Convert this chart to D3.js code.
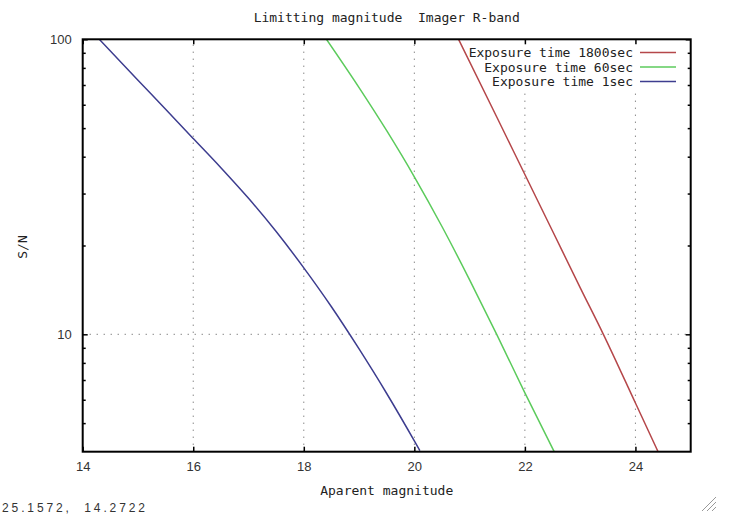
<!DOCTYPE html>
<html>
<head>
<meta charset="utf-8">
<script src="https://cdn.jsdelivr.net/npm/d3@7"></script>
<style>
  body { margin: 0; background: #fff; }
  svg { display: block; }
  text { white-space: pre; }
</style>
</head>
<body>
<svg id="chart" width="730" height="518"></svg>
<script>
// values (magnitude vs S/N)
var xTicks = [14, 16, 18, 20, 22, 24];
var yTicks = [10, 100];
var yMinor = [5, 6, 7, 8, 9, 20, 30, 40, 50, 60, 70, 80, 90];
var seriesNames = ["Exposure time 1800sec", "Exposure time 60sec", "Exposure time 1sec"];
var seriesColors = ["#b5474a", "#5ccb5c", "#3d3d8f"];

var mag1800 = [20.80, 21.5, 22.0, 22.5, 23.0, 23.42, 24.0, 24.41];
var sn1800  = [100, 54.1, 34.8, 22.4, 14.4, 10, 5.85, 4.0];
var mag60   = [18.41, 19.0, 19.5, 20.0, 20.5, 21.0, 21.49, 22.0, 22.53];
var sn60    = [100, 68.6, 49, 34.2, 23.2, 15.3, 10, 6.33, 4.0];
var mag1    = [14.30, 15.0, 15.5, 16.0, 16.5, 17.0, 17.5, 18.0, 18.5, 19.0, 19.5, 20.0, 20.1];
var sn1     = [100, 72.7, 57.9, 46.1, 36.7, 28.9, 22.3, 16.8, 12.4, 8.92, 6.30, 4.35, 4.03];

var titleText = "Limitting magnitude  Imager R-band";
var xLabel = "Aparent magnitude";
var yLabel = "S/N";
var statusText = "25.1572,  14.2722";

// plot box (note: "top" is taken by window.top, so use own names)
var pLeft = 82.7, pRight = 690.7, pTop = 39.3, pBottom = 451.7;
var monoFont = "'DejaVu Sans Mono', monospace";
var tickFont = "'Liberation Sans', Arial, sans-serif";

var svg = d3.select("#chart");

var x = d3.scaleLinear().domain([14, 25]).range([pLeft, pRight]);
var y = d3.scaleLog().domain([4, 100]).range([pBottom, pTop]);

// dotted grid
var grid = svg.append("g").attr("stroke", "#555").attr("stroke-width", 1)
    .attr("stroke-dasharray", "1,6");
grid.selectAll(".gx").data(xTicks.slice(1)).enter().append("line")
    .attr("x1", function (d) { return x(d); }).attr("x2", function (d) { return x(d); })
    .attr("y1", pBottom).attr("y2", pTop);
grid.selectAll(".gy").data(yTicks.slice(0, 1)).enter().append("line")
    .attr("x1", pLeft).attr("x2", pRight)
    .attr("y1", function (d) { return y(d); }).attr("y2", function (d) { return y(d); });

// key area is blank, grid does not run through it
svg.append("rect").attr("x", 462).attr("y", pTop + 1.5)
    .attr("width", pRight - 463.5).attr("height", 48).attr("fill", "#fff");

// curves
svg.append("clipPath").attr("id", "plotclip").append("rect")
    .attr("x", pLeft).attr("y", pTop).attr("width", pRight - pLeft).attr("height", pBottom - pTop);

var line = d3.line()
    .x(function (d) { return x(d[0]); })
    .y(function (d) { return y(d[1]); })
    .curve(d3.curveMonotoneX);

var series = [d3.zip(mag1800, sn1800), d3.zip(mag60, sn60), d3.zip(mag1, sn1)];
svg.append("g").attr("clip-path", "url(#plotclip)")
  .selectAll("path").data(series).enter().append("path")
    .attr("d", line)
    .attr("fill", "none")
    .attr("stroke", function (d, i) { return seriesColors[i]; })
    .attr("stroke-width", 1.5);

// axes, ticks pointing inward
function styleAxis(g) {
    g.select(".domain").remove();
    g.selectAll(".tick line").attr("stroke", "#000").attr("stroke-width", 1.5);
    g.selectAll(".tick text").attr("fill", "#333").style("font-family", tickFont).style("font-size", "13px");
}
svg.append("g").attr("transform", "translate(0," + pBottom + ")")
    .call(d3.axisBottom(x).tickValues(xTicks).tickSize(-5).tickPadding(10.5).tickFormat(d3.format("d")))
    .call(styleAxis);
svg.append("g").attr("transform", "translate(0," + pTop + ")")
    .call(d3.axisTop(x).tickValues(xTicks).tickSize(-5).tickFormat(""))
    .call(styleAxis);
svg.append("g").attr("transform", "translate(" + pLeft + ",0)")
    .call(d3.axisLeft(y).tickValues(yTicks).tickSize(-5).tickPadding(11).tickFormat(d3.format("d")))
    .call(styleAxis);
svg.append("g").attr("transform", "translate(" + pLeft + ",0)")
    .call(d3.axisLeft(y).tickValues(yMinor).tickSize(-3).tickFormat(""))
    .call(styleAxis);
svg.append("g").attr("transform", "translate(" + pRight + ",0)")
    .call(d3.axisRight(y).tickValues(yTicks).tickSize(-5).tickFormat(""))
    .call(styleAxis);
svg.append("g").attr("transform", "translate(" + pRight + ",0)")
    .call(d3.axisRight(y).tickValues(yMinor).tickSize(-3).tickFormat(""))
    .call(styleAxis);

// frame
svg.append("rect").attr("x", pLeft).attr("y", pTop)
    .attr("width", pRight - pLeft).attr("height", pBottom - pTop)
    .attr("fill", "none").attr("stroke", "#000").attr("stroke-width", 2);

// key
var key = svg.append("g").selectAll("g").data(seriesNames).enter().append("g")
    .attr("transform", function (d, i) { return "translate(0," + (52.5 + i * 14.5) + ")"; });
key.append("text").attr("x", 633).attr("text-anchor", "end").attr("dy", "0.35em")
    .style("font-family", monoFont).style("font-size", "13px").attr("fill", "#222")
    .text(function (d) { return d; });
key.append("line").attr("x1", 640).attr("x2", 676)
    .attr("stroke", function (d, i) { return seriesColors[i]; }).attr("stroke-width", 1.5);

// titles
svg.append("text").attr("x", (pLeft + pRight) / 2).attr("y", 17).attr("dy", "0.35em")
    .attr("text-anchor", "middle").style("font-family", monoFont).style("font-size", "13px")
    .attr("fill", "#222").text(titleText);
svg.append("text").attr("x", (pLeft + pRight) / 2).attr("y", 490).attr("dy", "0.35em")
    .attr("text-anchor", "middle").style("font-family", monoFont).style("font-size", "13px")
    .attr("fill", "#222").text(xLabel);
svg.append("text").attr("transform", "translate(22,247) rotate(-90)").attr("dy", "0.35em")
    .attr("text-anchor", "middle").style("font-family", monoFont).style("font-size", "13px")
    .attr("fill", "#222").text(yLabel);

// window status line and resize grip
svg.append("text").attr("x", 2).attr("y", 511.5)
    .attr("textLength", 143).attr("lengthAdjust", "spacing")
    .style("font-family", tickFont).style("font-size", "12px").attr("fill", "#333")
    .text(statusText);
var grip = svg.append("g").attr("stroke", "#999").attr("stroke-width", 1);
[4, 9, 14].forEach(function (o) {
    grip.append("line").attr("x1", 716).attr("y1", 511 - o).attr("x2", 716 - o).attr("y2", 511);
});
</script>
</body>
</html>
